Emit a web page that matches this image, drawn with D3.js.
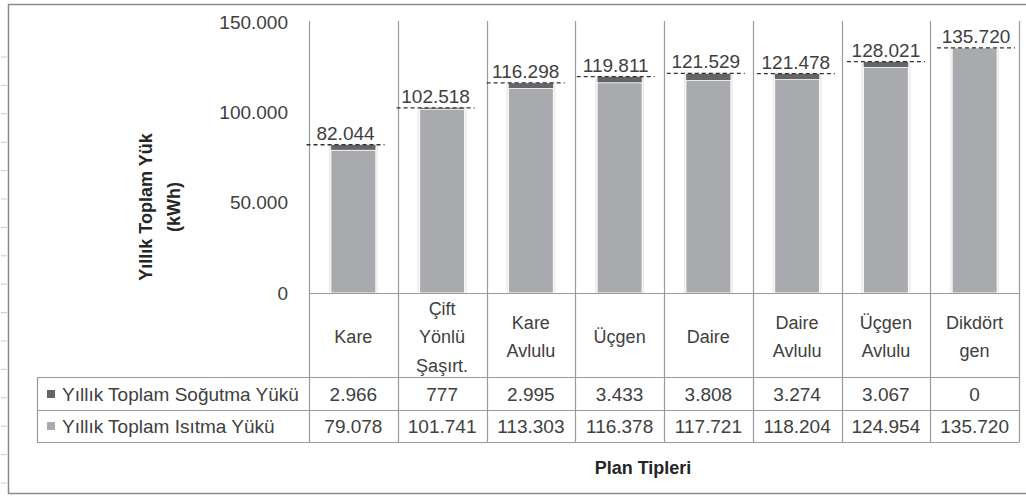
<!DOCTYPE html>
<html><head><meta charset="utf-8">
<script src="https://cdn.jsdelivr.net/npm/d3@7"></script>
<style>
body{margin:0;background:#fff;}
svg{display:block;font-family:"Liberation Sans",Arial,sans-serif;}
</style></head>
<body><svg id="c" width="1026" height="497"></svg>
<script>
const categories = [["Kare"],["Çift","Yönlü","Şaşırt."],["Kare","Avlulu"],["Üçgen"],["Daire"],["Daire","Avlulu"],["Üçgen","Avlulu"],["Dikdört","gen"]];
const coolingLoad = [2966, 777, 2995, 3433, 3808, 3274, 3067, 0];
const heatingLoad = [79078, 101741, 113303, 116378, 117721, 118204, 124954, 135720];
const totalLoad = [82044, 102518, 116298, 119811, 121529, 121478, 128021, 135720];
const yTicks = [0, 50000, 100000, 150000];
const seriesNames = ["Yıllık Toplam Soğutma Yükü", "Yıllık Toplam Isıtma Yükü"];
const yTitle = ["Yıllık Toplam Yük", "(kWh)"];
const xTitle = "Plan Tipleri";

(function(){
const svg = d3.select("#c");
const loc = d3.formatLocale({decimal:",", thousands:".", grouping:[3], currency:["","₺"]});
const fmt = loc.format(",d");
const txt = "#404040", grid = "#9a9a9a";
const cDark = "#646567", cLight = "#a9aaad";

const pLeft = 309, pRight = 1019, pTop = 22, base = 293;
const idx = d3.range(categories.length);
const x = d3.scaleBand().domain(idx).range([pLeft, pRight]).paddingInner(0).paddingOuter(0);
const xT = d3.scaleBand().domain(idx).range([300.5, 1021]);
const y = d3.scaleLinear().domain([0, 150000]).range([base, pTop]);
const bw = 45;

// outer frame
svg.append("path").attr("d", "M1026,4.5H8.5V493.5H1026").attr("fill","none").attr("stroke","#8a8a8a").attr("stroke-width",1.5);
// faint sheet ticks on left
svg.append("g").selectAll("line").data(d3.range(16)).join("line")
  .attr("x1",1).attr("x2",7).attr("y1",d=>57+d*28.4).attr("y2",d=>57+d*28.4)
  .attr("stroke","#c8c8c8");

// y axis labels
const ya = svg.append("g").attr("transform",`translate(288,0)`)
  .call(d3.axisLeft(y).tickValues(yTicks).tickSize(0).tickPadding(0).tickFormat(fmt));
ya.select(".domain").remove();
ya.selectAll("text").attr("fill",txt).attr("font-size",19).attr("font-family","Liberation Sans, Arial, sans-serif");

// y title
const yt = svg.append("text").attr("transform","translate(152,207) rotate(-90)")
  .attr("text-anchor","middle").attr("font-weight","bold").attr("font-size",18).attr("fill","#262626");
yt.append("tspan").attr("x",0).attr("dy",0).text(yTitle[0]);
yt.append("tspan").attr("x",0).attr("dy",28).text(yTitle[1]);

// vertical category lines
svg.append("g").selectAll("line").data(d3.range(categories.length+1)).join("line")
  .attr("x1",d=>Math.round(pLeft + d*x.bandwidth())+0.5).attr("x2",d=>Math.round(pLeft + d*x.bandwidth())+0.5)
  .attr("y1",21).attr("y2",442).attr("stroke",grid).attr("stroke-width",1.2);

// bars
const stackData = idx.map(i => ({i, h: heatingLoad[i], c: coolingLoad[i]}));
const bars = svg.append("g");
bars.selectAll("rect.glow").data(stackData).join("rect").attr("class","glow")
  .attr("x",d=>x(d.i)+x.bandwidth()/2-bw/2-2).attr("width",bw+4)
  .attr("y",d=>y(d.h+d.c)-1).attr("height",d=>base-y(d.h+d.c)+1)
  .attr("fill","#ebebeb");
bars.selectAll("rect.heat").data(stackData).join("rect").attr("class","heat")
  .attr("x",d=>x(d.i)+x.bandwidth()/2-bw/2).attr("width",bw)
  .attr("y",d=>y(d.h)).attr("height",d=>base-y(d.h))
  .attr("fill",cLight).attr("stroke","#fff").attr("stroke-width",1);
bars.selectAll("rect.cool").data(stackData.filter(d=>d.c>0)).join("rect").attr("class","cool")
  .attr("x",d=>x(d.i)+x.bandwidth()/2-bw/2).attr("width",bw)
  .attr("y",d=>y(d.h+d.c)).attr("height",d=>y(d.h)-y(d.h+d.c))
  .attr("fill",cDark).attr("stroke","#fff").attr("stroke-width",0.6);

// total dashed markers and labels
svg.append("g").selectAll("line").data(idx).join("line")
  .attr("x1",i=>xT(i)+xT.bandwidth()/2-39).attr("x2",i=>xT(i)+xT.bandwidth()/2+39)
  .attr("y1",i=>y(totalLoad[i])).attr("y2",i=>y(totalLoad[i]))
  .attr("stroke","#333").attr("stroke-width",1.3).attr("stroke-dasharray","4,3");
svg.append("g").selectAll("text").data(idx).join("text")
  .attr("x",i=>xT(i)+xT.bandwidth()/2).attr("y",i=>y(totalLoad[i])-5)
  .attr("text-anchor","middle").attr("font-size",19).attr("fill",txt)
  .text(i=>fmt(totalLoad[i]));

// table lines
const tl = svg.append("g").attr("stroke",grid).attr("stroke-width",1.2);
tl.append("line").attr("x1",pLeft).attr("x2",pRight+0.5).attr("y1",base+0.5).attr("y2",base+0.5);
[377,410,442].forEach(yy=>tl.append("line").attr("x1",37.5).attr("x2",pRight+0.5).attr("y1",yy+0.5).attr("y2",yy+0.5));
tl.append("line").attr("x1",37.5).attr("x2",37.5).attr("y1",377).attr("y2",443);

// category labels
svg.append("g").selectAll("text").data(idx).join("text")
  .attr("text-anchor","middle").attr("font-size",18).attr("fill",txt)
  .each(function(i){
    const lines = categories[i];
    const c = 337 - (lines.length-1)*28.5/2;
    d3.select(this).selectAll("tspan").data(lines).join("tspan")
      .attr("x",x(i)+x.bandwidth()/2).attr("y",(d,k)=>c+k*28.5+6).text(d=>d);
  });

// table rows
const rows = [coolingLoad, heatingLoad];
const rowY = [394, 426];
rows.forEach((vals, r) => {
  svg.append("g").selectAll("text").data(idx).join("text")
    .attr("x",i=>x(i)+x.bandwidth()/2).attr("y",rowY[r]+7)
    .attr("text-anchor","middle").attr("font-size",19).attr("fill",txt)
    .text(i=>fmt(vals[i]));
  svg.append("rect").attr("x",47).attr("y",rowY[r]-4).attr("width",8).attr("height",8)
    .attr("fill", r===0 ? cDark : cLight);
  svg.append("text").attr("x",62).attr("y",rowY[r]+7).attr("font-size",19).attr("fill",txt)
    .text(seriesNames[r]);
});

// x title
svg.append("text").attr("x",643).attr("y",474).attr("text-anchor","middle")
  .attr("font-weight","bold").attr("font-size",18).attr("fill","#262626").text(xTitle);
})();
</script></body></html>
